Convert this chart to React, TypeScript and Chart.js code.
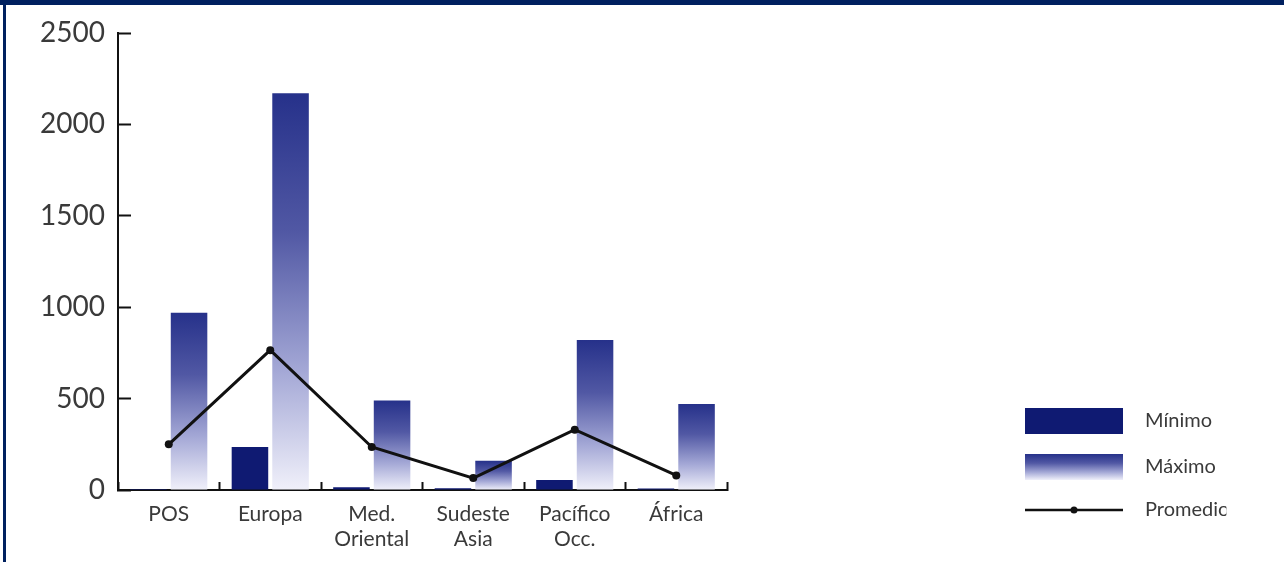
import React, { useEffect, useRef } from 'react';
import { Chart, registerables } from 'chart.js';

Chart.register(...registerables);

// ---- Data ----
const categories: (string | string[])[] = ['POS', 'Europa', ['Med.', 'Oriental'], ['Sudeste', 'Asia'], ['Pacífico', 'Occ.'], 'África'];
const minimo = [5, 235, 15, 10, 55, 8];
const maximo = [970, 2170, 490, 160, 820, 470];
const promedio = [250, 765, 235, 65, 330, 80];
const yTicks = [0, 500, 1000, 1500, 2000, 2500];
const seriesNames = ['Mínimo', 'Máximo', 'Promedio'];

// ---- Styles ----
const MIN_COLOR = '#0f1a72';
const MAX_STOPS: [number, string][] = [
  [0, '#26318a'],
  [0.35, '#5158a4'],
  [0.7, '#a4a8d6'],
  [1, '#f0f0fa'],
];
const LINE_COLOR = '#111111';
const TEXT_COLOR = '#3a3a3a';
const FONT = 'Lato, "Open Sans", sans-serif';

function maxGradient(ctx: CanvasRenderingContext2D, yTop: number, yBottom: number) {
  const g = ctx.createLinearGradient(0, yTop, 0, yBottom);
  MAX_STOPS.forEach(([o, c]) => g.addColorStop(o, c));
  return g;
}

const legendPlugin = {
  id: 'customLegend',
  afterDraw(chart: any) {
    const ctx: CanvasRenderingContext2D = chart.ctx;
    const x = 1025;
    const w = 98;
    const h = 26;
    const rows = [421, 467, 510];
    const textX = 1145;
    ctx.save();
    // Mínimo box
    ctx.fillStyle = MIN_COLOR;
    ctx.fillRect(x, rows[0] - h / 2, w, h);
    // Máximo box
    ctx.fillStyle = maxGradient(ctx, rows[1] - h / 2, rows[1] + h / 2);
    ctx.fillRect(x, rows[1] - h / 2, w, h);
    // Promedio line
    ctx.strokeStyle = LINE_COLOR;
    ctx.lineWidth = 2.5;
    ctx.beginPath();
    ctx.moveTo(x, rows[2]);
    ctx.lineTo(x + w, rows[2]);
    ctx.stroke();
    ctx.fillStyle = LINE_COLOR;
    ctx.beginPath();
    ctx.arc(x + w / 2, rows[2], 3.5, 0, Math.PI * 2);
    ctx.fill();
    // Texts
    ctx.font = `20px ${FONT}`;
    ctx.fillStyle = TEXT_COLOR;
    ctx.textBaseline = 'middle';
    ctx.textAlign = 'left';
    ctx.fillText(seriesNames[0], textX, rows[0]);
    ctx.fillText(seriesNames[1], textX, rows[1]);
    const tw = ctx.measureText(seriesNames[2]).width;
    ctx.save();
    ctx.beginPath();
    ctx.rect(textX - 2, rows[2] - 20, tw - 1, 40);
    ctx.clip();
    ctx.fillText(seriesNames[2], textX, rows[2]);
    ctx.restore();
    ctx.restore();
  },
};

export default function App() {
  const ref = useRef<HTMLCanvasElement | null>(null);

  useEffect(() => {
    if (!ref.current) return;
    const chart = new Chart(ref.current, {
      type: 'bar',
      data: {
        labels: categories as any,
        datasets: [
          {
            type: 'line',
            label: seriesNames[2],
            data: promedio,
            borderColor: LINE_COLOR,
            backgroundColor: LINE_COLOR,
            borderWidth: 3,
            pointRadius: 4,
            pointBackgroundColor: LINE_COLOR,
            pointBorderWidth: 0,
            tension: 0,
            order: 1,
          } as any,
          {
            type: 'bar',
            label: seriesNames[0],
            data: minimo,
            backgroundColor: MIN_COLOR,
            borderWidth: 0,
            order: 2,
            categoryPercentage: 0.8,
            barPercentage: 0.9,
          },
          {
            type: 'bar',
            label: seriesNames[1],
            data: maximo,
            backgroundColor: (c: any) => {
              const chart = c.chart;
              if (!chart.chartArea || c.type !== 'data') return MAX_STOPS[0][1];
              const v = c.parsed ? c.parsed.y : c.raw;
              const y = chart.scales.y;
              return maxGradient(chart.ctx, y.getPixelForValue(v), y.getPixelForValue(0));
            },
            borderWidth: 0,
            order: 2,
            categoryPercentage: 0.8,
            barPercentage: 0.9,
          },
        ],
      },
      options: {
        responsive: false,
        animation: false,
        layout: { padding: { top: 33, left: 0, right: 557, bottom: 0 } },
        plugins: {
          legend: { display: false },
          tooltip: { enabled: false },
        },
        scales: {
          x: {
            offset: true,
            grid: {
              offset: true,
              drawOnChartArea: false,
              drawTicks: true,
              tickLength: -8,
              tickWidth: 2,
              tickColor: '#111',
            },
            border: { display: true, color: '#111', width: 2 },
            ticks: {
              color: TEXT_COLOR,
              font: { family: FONT, size: 21, lineHeight: 1.22 },
              padding: 19,
              maxRotation: 0,
              autoSkip: false,
            },
            afterFit: (s: any) => {
              s.height = 72;
            },
          },
          y: {
            min: 0,
            max: 2500,
            afterBuildTicks: (s: any) => {
              s.ticks = yTicks.map((v) => ({ value: v }));
            },
            grid: {
              drawOnChartArea: false,
              drawTicks: true,
              tickLength: -13,
              tickWidth: 2,
              tickColor: '#111',
            },
            border: { display: true, color: '#111', width: 2 },
            ticks: {
              color: TEXT_COLOR,
              font: { family: FONT, size: 28 },
              padding: 26,
              callback: (v: any) => String(v),
            },
            afterFit: (s: any) => {
              s.width = 118;
              s.paddingTop = 0;
              s.paddingBottom = 0;
            },
          },
        },
      },
      plugins: [legendPlugin],
    });
    return () => chart.destroy();
  }, []);

  return (
    <div
      style={{
        position: 'fixed',
        left: 0,
        top: 0,
        width: 1284,
        height: 562,
        background: '#ffffff',
        overflow: 'hidden',
      }}
    >
      <canvas ref={ref} width={1284} height={562} style={{ position: 'absolute', left: 0, top: 0 }} />
      <div style={{ position: 'absolute', left: 0, top: 0, width: 1284, height: 5, background: '#00205f' }} />
      <div style={{ position: 'absolute', left: 3, top: 0, width: 3, height: 562, background: '#00205f' }} />
    </div>
  );
}
